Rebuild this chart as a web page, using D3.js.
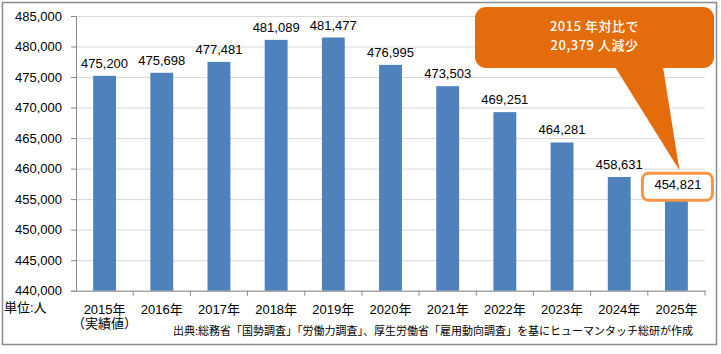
<!DOCTYPE html>
<html>
<head>
<meta charset="utf-8">
<script src="https://cdn.jsdelivr.net/npm/d3@7"></script>
<style>
  html, body { margin: 0; padding: 0; background: #fff; }
  svg text { font-family: "Liberation Sans", "Noto Sans CJK JP", sans-serif; }
</style>
</head>
<body>
<div id="chart"></div>
<script>
// 年次（カテゴリ）
const years = ['2015年', '2016年', '2017年', '2018年', '2019年', '2020年',
               '2021年', '2022年', '2023年', '2024年', '2025年'];
const subLabels = ['（実績値）', '', '', '', '', '', '', '', '', '', ''];
// 人数
const values = [475200, 475698, 477481, 481089, 481477, 476995,
                473503, 469251, 464281, 458631, 454821];
const yTicks = [440000, 445000, 450000, 455000, 460000, 465000,
                470000, 475000, 480000, 485000];
const calloutLines = ['2015 年対比で', '20,379 人減少'];
const unitLabel = '単位:人';
const sourceLabel = '出典:総務省「国勢調査」「労働力調査」、厚生労働省「雇用動向調査」を基にヒューマンタッチ総研が作成';

const width = 721, height = 354;
const plot = { left: 76, right: 705, top: 16, bottom: 290.7 };

const svg = d3.select('#chart').append('svg')
  .attr('width', width)
  .attr('height', height)
  .attr('viewBox', `0 0 ${width} ${height}`);

// 外枠
svg.append('rect')
  .attr('x', 2.5).attr('y', 2.5)
  .attr('width', 714).attr('height', 342)
  .attr('fill', '#fff')
  .attr('stroke', '#8c8c8c')
  .attr('stroke-width', 1.5);

const x = d3.scaleBand()
  .domain(years)
  .range([plot.left, plot.right])
  .paddingInner(0.6)
  .paddingOuter(0.3);

const y = d3.scaleLinear()
  .domain([yTicks[0], yTicks[yTicks.length - 1]])
  .range([plot.bottom, plot.top]);

// グリッド線
svg.append('g')
  .attr('transform', `translate(${plot.left},0)`)
  .call(d3.axisLeft(y).tickValues(yTicks).tickSize(-(plot.right - plot.left)).tickFormat(''))
  .call(g => g.select('.domain').remove())
  .call(g => g.selectAll('.tick line').attr('stroke', '#d9d9d9').attr('stroke-width', 1));

// Y軸
svg.append('g')
  .attr('transform', `translate(${plot.left},0)`)
  .call(d3.axisLeft(y).tickValues(yTicks).tickSize(5).tickPadding(9).tickFormat(d3.format(',')))
  .call(g => g.select('.domain').attr('stroke', '#8c8c8c'))
  .call(g => g.selectAll('.tick line').attr('stroke', '#8c8c8c'))
  .call(g => g.selectAll('.tick text')
    .attr('font-size', '13px').attr('fill', '#000'));

// 棒
svg.append('g').selectAll('rect')
  .data(values)
  .join('rect')
  .attr('x', (d, i) => x(years[i]))
  .attr('y', d => y(d))
  .attr('width', x.bandwidth())
  .attr('height', d => y(yTicks[0]) - y(d))
  .attr('fill', '#4f81bd');

// X軸
const xAxis = svg.append('g')
  .attr('transform', `translate(0,${plot.bottom})`)
  .call(d3.axisBottom(x).tickSize(0).tickPadding(14))
  .call(g => g.select('.domain').attr('stroke', '#8c8c8c'))
  .call(g => g.selectAll('.tick text').attr('font-size', '13px').attr('fill', '#000'));

xAxis.selectAll('.tick text')
  .filter((d, i) => subLabels[i])
  .append('tspan')
  .attr('x', 0).attr('dy', '1.05em')
  .text((d, i) => subLabels[years.indexOf(d)]);

// 区切り目盛り
const boundaries = years.map(d => x(d) - x.step() * x.paddingInner() / 2).slice(1)
  .concat([plot.right]);
svg.append('g').selectAll('line')
  .data(boundaries)
  .join('line')
  .attr('x1', d => d).attr('x2', d => d)
  .attr('y1', plot.bottom).attr('y2', plot.bottom + 5)
  .attr('stroke', '#8c8c8c');

// データラベル
const last = values.length - 1;
const labelY = (d, i) => i === last ? y(d) - 11 : y(d) - 8;
const labelX = i => x(years[i]) + x.bandwidth() / 2;

// 2025年の強調枠
svg.append('rect')
  .attr('x', labelX(last) - 34)
  .attr('y', labelY(values[last], last) - 16)
  .attr('width', 70)
  .attr('height', 27)
  .attr('rx', 6)
  .attr('fill', '#fff')
  .attr('stroke', '#f79646')
  .attr('stroke-width', 3);

svg.append('g').selectAll('text')
  .data(values)
  .join('text')
  .attr('x', (d, i) => labelX(i) + (i === last ? 1.5 : 0))
  .attr('y', (d, i) => labelY(d, i))
  .attr('text-anchor', 'middle')
  .attr('font-size', '13px')
  .attr('fill', '#000')
  .text(d => d3.format(',')(d));

// 吹き出し
const callout = { x: 475, y: 7, w: 239, h: 61 };
const tip = [labelX(last) + 3, labelY(values[last], last) - 19];
svg.append('path')
  .attr('d', `M${callout.x + 140},${callout.y + callout.h - 1} L${tip[0]},${tip[1]} L${callout.x + 188},${callout.y + callout.h - 1} Z`)
  .attr('fill', '#e46c0a');
svg.append('rect')
  .attr('x', callout.x).attr('y', callout.y)
  .attr('width', callout.w).attr('height', callout.h)
  .attr('rx', 11)
  .attr('fill', '#e46c0a');
svg.append('g').selectAll('text')
  .data(calloutLines)
  .join('text')
  .attr('x', callout.x + callout.w / 2)
  .attr('y', (d, i) => callout.y + 24 + i * 19)
  .attr('text-anchor', 'middle')
  .attr('font-size', '13px')
  .attr('font-weight', '500')
  .attr('letter-spacing', '0.5px')
  .attr('fill', '#fff')
  .style('font-family', '"Noto Sans CJK JP", sans-serif')
  .text(d => d);

// 単位・出典
svg.append('text')
  .attr('x', 4).attr('y', 312)
  .attr('font-size', '13px')
  .attr('fill', '#000')
  .text(unitLabel);

svg.append('text')
  .attr('x', 693).attr('y', 335)
  .attr('text-anchor', 'end')
  .attr('font-size', '11px')
  .attr('fill', '#000')
  .text(sourceLabel);
</script>
</body>
</html>
